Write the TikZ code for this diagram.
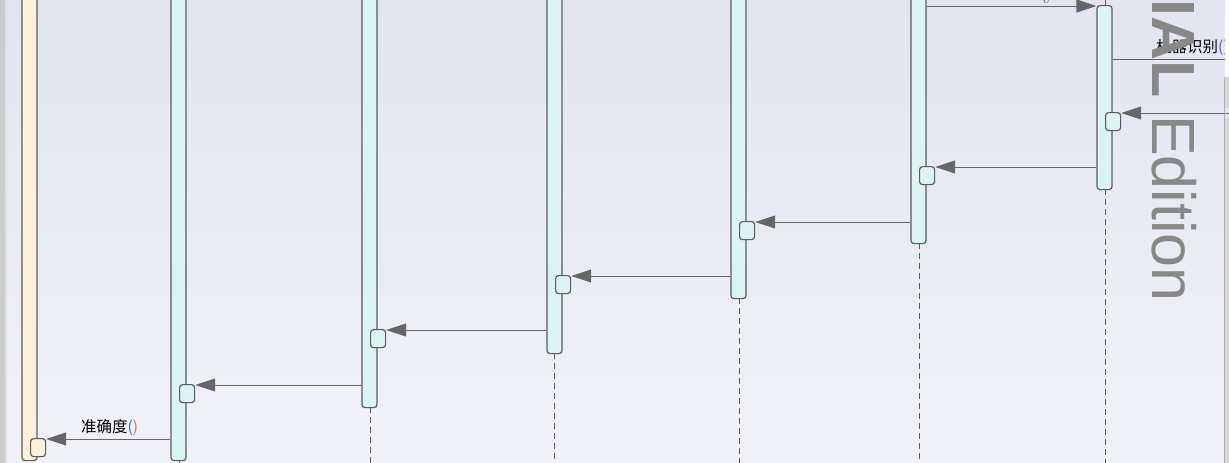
\documentclass[tikz,border=0pt]{standalone}
\usepackage{fontspec}
\setmainfont{Liberation Sans}
\newfontfamily\cjk{Noto Sans CJK SC}
\usetikzlibrary{arrows.meta}
\definecolor{bgtop}{RGB}{226,229,240}
\definecolor{bgbot}{RGB}{241,242,248}
\definecolor{barfill}{RGB}{220,244,244}
\definecolor{actfill}{RGB}{253,240,220}
\definecolor{edgec}{RGB}{92,92,92}
\definecolor{msgc}{RGB}{102,102,102}
\definecolor{pblue}{RGB}{60,110,200}
\definecolor{porange}{RGB}{200,120,60}
\definecolor{wmark}{RGB}{136,136,136}
\definecolor{stripc}{RGB}{205,205,205}
\begin{document}
\begin{tikzpicture}[x=1pt,y=-1pt,
  bar/.style={draw=edgec, line width=1.2pt, fill=barfill, rounded corners=3pt,
    minimum width=15pt, inner sep=0pt, anchor=north},
  actbox/.style={draw=edgec, line width=1.2pt, fill=barfill, rounded corners=3pt,
    minimum width=15pt, minimum height=18pt, inner sep=0pt, anchor=north west},
  msg/.style={draw=msgc, line width=1pt, -{Triangle[length=20pt,width=13pt]}},
  plain/.style={draw=msgc, line width=1pt},
  life/.style={draw=edgec, line width=1pt, dash pattern=on 6pt off 4pt},
  lbl/.style={inner sep=0pt, anchor=base west, font=\cjk\fontsize{15.5}{18}\selectfont},
  wm/.style={inner sep=0pt, text=wmark, rotate=-90, font=\fontsize{61}{61}\selectfont}
]
\useasboundingbox (0,0) rectangle (1229,463);
\clip (0,0) rectangle (1229,463);
% background
\shade[top color=bgtop, bottom color=bgbot] (0,0) rectangle (1229,463);
\fill[stripc] (0,0) rectangle (5,463);
\fill[stripc!60!white] (5,0) rectangle (7,463);

% level coordinates
\coordinate (top) at (0,0);
\coordinate (bot) at (0,463);
\coordinate (redge) at (1229,0);
\coordinate (m0) at (0,6);
\coordinate (m8) at (0,59);
\coordinate (m7) at (0,113);
\coordinate (m6) at (0,167);
\coordinate (m5) at (0,222);
\coordinate (m4) at (0,276);
\coordinate (m3) at (0,330);
\coordinate (m2) at (0,385);
\coordinate (m1) at (0,439);

% lifelines (dashed) below bars
\draw[life] (179,460) -- (179,463);
\draw[life] (370,407) -- (370,463);
\draw[life] (554.5,353) -- (554.5,463);
\draw[life] (739.5,298) -- (739.5,463);
\draw[life] (919.5,243) -- (919.5,463);
\draw[life] (1105.5,189) -- (1105.5,463);
\draw[life] (1105.5,0) -- (1105.5,5);

% activation bars
\node[bar, fill=actfill, minimum height=470pt] (b1) at (29.5,-10) {};
\node[bar, minimum height=470pt] (b2) at (178.5,-10) {};
\node[bar, minimum height=417pt] (b3) at (369.5,-10) {};
\node[bar, minimum height=363pt] (b4) at (554.5,-10) {};
\node[bar, minimum height=308pt] (b5) at (738.5,-10) {};
\node[bar, minimum height=253pt] (b6) at (918.5,-10) {};
\node[bar, minimum height=184pt] (b7) at (1104.5,5) {};

% return boxes
\node[actbox, fill=actfill] (x1) at (30,438) {};
\node[actbox] (x2) at (179,384) {};
\node[actbox] (x3) at (370,329) {};
\node[actbox] (x4) at (555,275) {};
\node[actbox] (x5) at (739,221) {};
\node[actbox] (x6) at (919,166) {};
\node[actbox] (x7) at (1105,112) {};

% messages
\draw[msg] (b6.east |- m0) -- (b7.west |- m0);
\draw[plain] (b7.east |- m8) -- (redge |- m8);
\draw[msg] (redge |- m7) -- (x7.east |- m7);
\draw[msg] (b7.west |- m6) -- (x6.east |- m6);
\draw[msg] (b6.west |- m5) -- (x5.east |- m5);
\draw[msg] (b5.west |- m4) -- (x4.east |- m4);
\draw[msg] (b4.west |- m3) -- (x3.east |- m3);
\draw[msg] (b3.west |- m2) -- (x2.east |- m2);
\draw[msg] (b2.west |- m1) -- (x1.east |- m1);

% labels
\node[lbl] (l1) at (81,432) {准确度\textcolor{pblue}{(}\textcolor{porange}{)}};
\node[lbl] (l8) at (1156,52) {机器识别\textcolor{pblue}{(}\textcolor{porange}{)}};
\node[lbl] (l0) at (1041,0.5) {\textcolor{pblue}{(}\textcolor{porange}{)}};

% right panel edge
\fill[white] (1225,0) rectangle (1229,77);
\fill[stripc!80!white] (1225,77) rectangle (1229,108);
\fill[stripc!80!white] (1225,118) rectangle (1229,463);
\draw[stripc!85!black, line width=0.8pt] (1224.5,77) -- (1224.5,463);

% watermark
\node[wm, anchor=base east] (w1) at (1152,98) {\bfseries TRIAL};
\node[wm, anchor=base west] (w2) at (1152,115) {Edition};
\end{tikzpicture}
\end{document}
